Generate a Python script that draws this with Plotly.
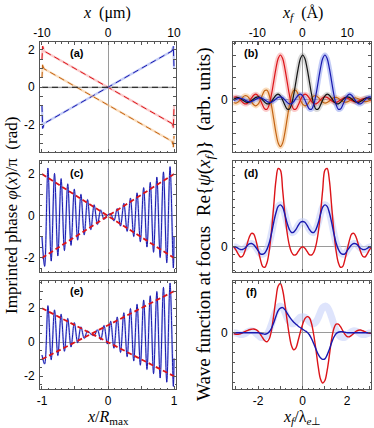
import plotly.graph_objects as go

W, H = 374, 428


def px(x):
    return x / W


def py(y):
    return 1 - y / H


# ---------------- data ----------------
# panel (a): imprinted phases (x / R_max)
a_x = [-1.0, -0.99, -0.985, -0.98, -0.97, 0.97, 0.98, 0.985, 0.99, 1.0]
a_red = [1.5, 2.2, 1.95, 2.12, 1.94, -1.94, -2.12, -1.95, -2.2, -1.0]
a_blue = [-1.0, -2.2, -1.95, -2.12, -1.94, 1.94, 2.12, 1.95, 2.2, 1.0]
a_orange = [0.5, 1.2, 0.95, 1.1, 0.99, -2.89, -3.05, -2.9, -3.2, -2.6]
a_black_x = [-1.0, 1.0]
a_black = [0.0, 0.0]

# panels (c) and (e): oscillating phase, sampled at its extrema
osc_x = [-1.0, -0.96, -0.91, -0.86, -0.81, -0.76, -0.71, -0.66, -0.61, -0.56,
         -0.51, -0.46, -0.41, -0.36, -0.31, -0.26, -0.21, -0.16, -0.11, -0.06,
         -0.01, 0.04, 0.09, 0.14, 0.19, 0.24, 0.29, 0.34, 0.39, 0.44,
         0.49, 0.54, 0.59, 0.64, 0.69, 0.74, 0.79, 0.84, 0.89, 0.94,
         0.99, 1.0]
c_blue = [-1.0, -2.4, 2.28, -2.15, 2.03, -1.9, 1.78, -1.65, 1.53, -1.4,
          1.28, -1.15, 1.03, -0.9, 0.78, -0.65, 0.53, -0.4, 0.28, -0.15,
          0.03, 0.1, -0.23, 0.35, -0.48, 0.6, -0.73, 0.85, -0.98, 1.1,
          -1.23, 1.35, -1.48, 1.6, -1.73, 1.85, -1.98, 2.1, -2.23, 2.35,
          -2.48, -1.0]
e_blue = [-0.75, -1.28, 2.15, -1.03, 1.9, -0.78, 1.65, -0.53, 1.4, -0.28,
          1.15, -0.03, 0.9, 0.23, 0.65, 0.48, 0.4, 0.73, 0.15, 0.98,
          -0.1, 1.23, -0.35, 1.48, -0.6, 1.73, -0.85, 1.98, -1.1, 2.23,
          -1.35, 2.48, -1.6, 2.73, -1.85, 2.98, -2.1, 3.23, -2.35, 3.48,
          -2.6, -0.95]
ramp_x = [-1.0, 1.0]
c_red_down = [2.0, -2.0]
c_red_up = [-2.0, 2.0]
e_red_down = [2.0, -2.0]
e_red_up = [-1.0, 3.0]

# right column: x_f / lambda_e
xf = [-3.1, -3.0, -2.9, -2.8, -2.7, -2.6, -2.5, -2.4, -2.3, -2.2,
      -2.1, -2.0, -1.9, -1.8, -1.7, -1.6, -1.5, -1.4, -1.3, -1.2,
      -1.1, -1.0, -0.9, -0.8, -0.7, -0.6, -0.5, -0.4, -0.3, -0.2,
      -0.1, 0.0, 0.1, 0.2, 0.3, 0.4, 0.5, 0.6, 0.7, 0.8,
      0.9, 1.0, 1.1, 1.2, 1.3, 1.4, 1.5, 1.6, 1.7, 1.8,
      1.9, 2.0, 2.1, 2.2, 2.3, 2.4, 2.5, 2.6, 2.7, 2.8,
      2.9, 3.0, 3.1]

# panel (b)
b_red = [0.056, 0.067, 0.046, 0.0, -0.054, -0.088, -0.083, -0.035, 0.038, 0.103,
         0.128, 0.092, 0.0, -0.115, -0.202, -0.207, -0.098, 0.122, 0.414, 0.705,
         0.921, 1.0, 0.921, 0.705, 0.414, 0.122, -0.098, -0.207, -0.202, -0.115,
         0.0, 0.092, 0.128, 0.103, 0.038, -0.035, -0.083, -0.088, -0.054, 0.0,
         0.046, 0.067, 0.056, 0.021, -0.020, -0.050, -0.054, -0.034, 0.0, 0.033,
         0.049, 0.041, 0.016, -0.015, -0.038, -0.041, -0.026, 0.0, 0.025, 0.037,
         0.032, 0.012, -0.012]
b_blue = [-0.012, 0.012, 0.032, 0.037, 0.025, 0.0, -0.026, -0.041, -0.038, -0.015,
          0.016, 0.041, 0.049, 0.033, 0.0, -0.034, -0.054, -0.050, -0.020, 0.021,
          0.056, 0.067, 0.046, 0.0, -0.054, -0.088, -0.083, -0.035, 0.038, 0.103,
          0.128, 0.092, 0.0, -0.115, -0.202, -0.207, -0.098, 0.122, 0.414, 0.705,
          0.921, 1.0, 0.921, 0.705, 0.414, 0.122, -0.098, -0.207, -0.202, -0.115,
          0.0, 0.092, 0.128, 0.103, 0.038, -0.035, -0.083, -0.088, -0.054, 0.0,
          0.046, 0.067, 0.056]
b_black = [0.016, 0.041, 0.049, 0.033, 0.0, -0.034, -0.054, -0.050, -0.020, 0.021,
           0.056, 0.067, 0.046, 0.0, -0.054, -0.088, -0.083, -0.035, 0.038, 0.103,
           0.128, 0.092, 0.0, -0.115, -0.202, -0.207, -0.098, 0.122, 0.414, 0.705,
           0.921, 1.0, 0.921, 0.705, 0.414, 0.122, -0.098, -0.207, -0.202, -0.115,
           0.0, 0.092, 0.128, 0.103, 0.038, -0.035, -0.083, -0.088, -0.054, 0.0,
           0.046, 0.067, 0.056, 0.021, -0.020, -0.050, -0.054, -0.034, 0.0, 0.033,
           0.049, 0.041, 0.016]
b_orange = [-0.058, -0.07, -0.048, 0.0, 0.056, 0.092, 0.086, 0.036, -0.04, -0.107,
            -0.133, -0.096, 0.0, 0.12, 0.21, 0.215, 0.102, -0.127, -0.43, -0.733,
            -0.958, -1.04, -0.958, -0.733, -0.43, -0.127, 0.102, 0.215, 0.21, 0.12,
            0.0, -0.096, -0.133, -0.107, -0.04, 0.036, 0.086, 0.092, 0.056, 0.0,
            -0.048, -0.07, -0.058, -0.022, 0.021, 0.052, 0.056, 0.035, 0.0, -0.034,
            -0.051, -0.043, -0.017, 0.016, 0.04, 0.043, 0.027, 0.0, -0.026, -0.038,
            -0.033, -0.012, 0.012]

# panel (d)
d_red = [0.0, -0.04, -0.09, -0.13, -0.12, -0.06, 0.03, 0.12, 0.17, 0.16,
         0.08, -0.04, -0.16, -0.25, -0.26, -0.20, -0.05, 0.20, 0.52, 0.84,
         0.99, 0.97, 0.72, 0.42, 0.18, 0.02, -0.07, -0.105, -0.10, -0.06,
         -0.02, 0.0, -0.02, -0.06, -0.10, -0.105, -0.07, 0.02, 0.18, 0.42,
         0.72, 0.97, 0.99, 0.84, 0.52, 0.20, -0.05, -0.20, -0.26, -0.25,
         -0.16, -0.04, 0.08, 0.16, 0.17, 0.12, 0.03, -0.06, -0.12, -0.13,
         -0.09, -0.04, 0.0]
d_blue = [0.0, -0.005, -0.02, -0.035, -0.035, -0.02, 0.01, 0.035, 0.04, 0.025,
          -0.01, -0.05, -0.09, -0.095, -0.08, -0.03, 0.05, 0.17, 0.31, 0.43,
          0.51, 0.53, 0.50, 0.41, 0.30, 0.22, 0.18, 0.185, 0.22, 0.27,
          0.31, 0.32, 0.31, 0.27, 0.22, 0.185, 0.18, 0.22, 0.30, 0.41,
          0.50, 0.53, 0.51, 0.43, 0.31, 0.17, 0.05, -0.03, -0.08, -0.095,
          -0.09, -0.05, -0.01, 0.025, 0.04, 0.035, 0.01, -0.02, -0.035, -0.035,
          -0.02, -0.005, 0.0]

# panel (f)
f_red = [-0.02, -0.03, -0.03, -0.02, 0.0, 0.02, 0.04, 0.06, 0.07, 0.075,
         0.06, 0.03, -0.03, -0.10, -0.16, -0.18, -0.12, 0.05, 0.35, 0.68,
         0.93, 0.98, 0.85, 0.58, 0.25, -0.05, -0.26, -0.34, -0.30, -0.15,
         0.02, 0.17, 0.28, 0.32, 0.30, 0.18, -0.05, -0.35, -0.68, -0.92,
         -1.0, -0.95, -0.75, -0.45, -0.13, 0.08, 0.17, 0.17, 0.12, 0.04,
         -0.03, -0.075, -0.08, -0.05, -0.01, 0.03, 0.05, 0.055, 0.04, 0.02,
         0.0, -0.01, -0.01]
f_blue = [0.0, 0.0, 0.0, 0.0, 0.0, 0.0, 0.0, 0.0, 0.0, 0.0,
          0.0, 0.0, -0.01, -0.02, -0.03, -0.02, 0.02, 0.09, 0.20, 0.33,
          0.44, 0.49, 0.50, 0.46, 0.39, 0.32, 0.26, 0.21, 0.17, 0.13,
          0.10, 0.07, 0.04, 0.01, -0.04, -0.12, -0.22, -0.33, -0.43, -0.50,
          -0.53, -0.52, -0.44, -0.33, -0.20, -0.09, -0.02, 0.01, 0.02, 0.02,
          0.01, 0.0, 0.0, 0.0, 0.0, 0.0, 0.0, 0.0, 0.0, 0.0,
          0.0, 0.0, 0.0]
f_ghost = d_blue

# tick labels
left_xticks = [-1, -0.5, 0, 0.5, 1]
left_xtext = ['-1', '', '0', '', '1']
top_um_ticks = [-10, -5, 0, 5, 10]
top_um_text = ['-10', '', '0', '', '10']
right_xticks = [-3, -2, -1, 0, 1, 2, 3]
right_xtext = ['', '-2', '', '0', '', '2', '']
top_A_ticks = [-15, -10, -5, 0, 5, 10, 15]
top_A_text = ['', '-10', '', '0', '', '10', '']
phase_ticks = [-3, -2, -1, 0, 1, 2, 3]
phase_text = ['', '-2', '', '0', '', '2', '']
wave_ticks = [0]
wave_text = ['0']

# ---------------- colours ----------------
RED = 'rgb(220,20,25)'
RED_L = 'rgba(245,140,140,0.45)'
BLUE = 'rgb(25,25,175)'
BLUE_L = 'rgba(120,140,235,0.45)'
BLACK = 'rgb(20,20,20)'
BLACK_L = 'rgba(150,150,150,0.35)'
ORANGE = 'rgb(195,100,20)'
ORANGE_L = 'rgba(245,180,110,0.45)'
GHOST = 'rgba(195,205,250,0.55)'

fig = go.Figure()


def line(x, y, color, width, xa, ya, dash='solid', shape='linear'):
    fig.add_trace(go.Scatter(x=x, y=y, mode='lines', xaxis=xa, yaxis=ya,
                             line=dict(color=color, width=width, dash=dash, shape=shape),
                             hoverinfo='skip', showlegend=False))


# (a)
for yv, cl, cd in [(a_red, RED_L, RED), (a_blue, BLUE_L, BLUE), (a_orange, ORANGE_L, ORANGE)]:
    line(a_x, yv, cl, 2.2, 'x', 'y')
    line(a_x, yv, cd, 1.0, 'x', 'y', dash='6px,4px')
line(a_black_x, a_black, BLACK_L, 2.0, 'x', 'y')
line(a_black_x, a_black, BLACK, 1.0, 'x', 'y', dash='6px,4px')

# (b)
for yv, cl in [(b_orange, ORANGE_L), (b_red, RED_L), (b_black, BLACK_L), (b_blue, BLUE_L)]:
    line(xf, yv, cl, 5, 'x2', 'y2', shape='spline')
for yv, cd in [(b_orange, ORANGE), (b_red, RED), (b_black, BLACK), (b_blue, BLUE)]:
    line(xf, yv, cd, 1.2, 'x2', 'y2', shape='spline')

# (c)
line(osc_x, c_blue, BLUE_L, 2.0, 'x3', 'y3', shape='spline')
line(osc_x, c_blue, BLUE, 1.0, 'x3', 'y3', shape='spline')
line(ramp_x, c_red_down, RED, 1.8, 'x3', 'y3', dash='5px,3px')
line(ramp_x, c_red_up, RED, 1.8, 'x3', 'y3', dash='5px,3px')

# (d)
line(xf, d_blue, GHOST, 7, 'x4', 'y4', shape='spline')
line(xf, d_red, RED, 1.4, 'x4', 'y4', shape='spline')
line(xf, d_blue, BLUE, 1.4, 'x4', 'y4', shape='spline')

# (e)
line(osc_x, e_blue, BLUE_L, 2.0, 'x5', 'y5', shape='spline')
line(osc_x, e_blue, BLUE, 1.0, 'x5', 'y5', shape='spline')
line(ramp_x, e_red_down, RED, 1.8, 'x5', 'y5', dash='5px,3px')
line(ramp_x, e_red_up, RED, 1.8, 'x5', 'y5', dash='5px,3px')

# (f)
line(xf, f_ghost, GHOST, 7, 'x6', 'y6', shape='spline')
line(xf, f_red, RED, 1.4, 'x6', 'y6', shape='spline')
line(xf, f_blue, BLUE, 1.4, 'x6', 'y6', shape='spline')

# empty traces so that the top (secondary) axes get drawn
fig.add_trace(go.Scatter(x=[], y=[], xaxis='x7', yaxis='y', showlegend=False, hoverinfo='skip'))
fig.add_trace(go.Scatter(x=[], y=[], xaxis='x8', yaxis='y2', showlegend=False, hoverinfo='skip'))

FRAME = '#555'
TICKFONT = dict(family='Liberation Sans, Arial, sans-serif', size=12, color='black')


def ax(**kw):
    d = dict(showline=True, linecolor=FRAME, linewidth=1, mirror='allticks',
             ticks='inside', ticklen=3, tickcolor=FRAME, tickwidth=1,
             showgrid=False, zeroline=True, zerolinecolor='#9a9a9a', zerolinewidth=1,
             tickfont=TICKFONT, fixedrange=True, ticklabelstandoff=2)
    d.update(kw)
    return d


LX = [px(40), px(176)]
RX = [px(233), px(371)]
ROW1 = [py(152), py(42)]
ROW2 = [py(272), py(161)]
ROW3 = [py(389), py(281)]
LRANGE = [-1.03, 1.03]
RRANGE = [-3.13, 3.07]

lminor = dict(ticks='inside', ticklen=1.5, tickcolor=FRAME, tick0=0, dtick=0.1)
rminor = dict(ticks='inside', ticklen=1.5, tickcolor=FRAME, tick0=0, dtick=0.25)

fig.update_layout(
    width=W, height=H, margin=dict(l=0, r=0, t=0, b=0, autoexpand=False),
    paper_bgcolor='white', plot_bgcolor='white', showlegend=False,
    xaxis=ax(domain=LX, anchor='y', range=LRANGE, tickvals=left_xticks, ticktext=left_xtext,
             showticklabels=False, minor=lminor),
    yaxis=ax(domain=ROW1, anchor='x', range=[-3.46, 2.42], tickvals=phase_ticks, ticktext=phase_text,
             minor=dict(ticks='inside', ticklen=1.5, tickcolor=FRAME, tick0=0, dtick=0.5)),
    xaxis3=ax(domain=LX, anchor='y3', range=LRANGE, tickvals=left_xticks, ticktext=left_xtext,
              showticklabels=False, minor=lminor),
    yaxis3=ax(domain=ROW2, anchor='x3', range=[-2.67, 2.62], tickvals=phase_ticks, ticktext=phase_text,
              minor=dict(ticks='inside', ticklen=1.5, tickcolor=FRAME, tick0=0, dtick=0.5)),
    xaxis5=ax(domain=LX, anchor='y5', range=LRANGE, tickvals=left_xticks, ticktext=left_xtext,
              minor=lminor, ticklabelstandoff=1),
    yaxis5=ax(domain=ROW3, anchor='x5', range=[-2.75, 3.6], tickvals=phase_ticks, ticktext=phase_text,
              minor=dict(ticks='inside', ticklen=1.5, tickcolor=FRAME, tick0=0, dtick=0.5)),
    xaxis2=ax(domain=RX, anchor='y2', range=RRANGE, tickvals=right_xticks, ticktext=right_xtext,
              showticklabels=False, minor=rminor),
    yaxis2=ax(domain=ROW1, anchor='x2', range=[-1.16, 1.29], tickvals=wave_ticks, ticktext=wave_text,
              minor=dict(ticks='inside', ticklen=1.5, tickcolor=FRAME, tick0=0, dtick=0.25)),
    xaxis4=ax(domain=RX, anchor='y4', range=RRANGE, tickvals=right_xticks, ticktext=right_xtext,
              showticklabels=False, minor=rminor),
    yaxis4=ax(domain=ROW2, anchor='x4', range=[-0.32, 1.085], tickvals=wave_ticks, ticktext=wave_text,
              minor=dict(ticks='inside', ticklen=1.5, tickcolor=FRAME, tick0=0, dtick=0.1)),
    xaxis6=ax(domain=RX, anchor='y6', range=RRANGE, tickvals=right_xticks, ticktext=right_xtext,
              minor=rminor, ticklabelstandoff=1),
    yaxis6=ax(domain=ROW3, anchor='x6', range=[-1.12, 1.03], tickvals=wave_ticks, ticktext=wave_text,
              minor=dict(ticks='inside', ticklen=1.5, tickcolor=FRAME, tick0=0, dtick=0.2)),
    xaxis7=dict(overlaying='x', anchor='y', side='top', range=[-10.3, 10.3],
                tickvals=top_um_ticks, ticktext=top_um_text, ticks='inside', ticklen=3,
                tickcolor=FRAME, showline=False, showgrid=False, zeroline=False,
                tickfont=TICKFONT, fixedrange=True, ticklabelstandoff=2),
    xaxis8=dict(overlaying='x2', anchor='y2', side='top', range=[-15.4, 15.27],
                tickvals=top_A_ticks, ticktext=top_A_text, ticks='inside', ticklen=3,
                tickcolor=FRAME, showline=False, showgrid=False, zeroline=False,
                tickfont=TICKFONT, fixedrange=True, ticklabelstandoff=2),
)

SERIF = 'Liberation Serif, Times New Roman, serif'


def note(text, x, y, size=15, angle=0, family=SERIF, bold=False):
    if bold:
        text = '<b>' + text + '</b>'
    fig.add_annotation(text=text, x=px(x), y=py(y), xref='paper', yref='paper',
                       showarrow=False, textangle=angle, xanchor='center', yanchor='middle',
                       font=dict(family=family, size=size, color='black'))


note('<i>x</i>  (μm)', 107, 13, size=16)
note('<i>x<sub>f</sub></i>  (Å)', 302, 13, size=16)
note('<i>x</i>/<i>R</i><sub>max</sub>', 108, 417, size=16)
note('<i>x<sub>f</sub></i>/λ<sub><i>e</i>⊥</sub>', 302, 417, size=16)
note('Imprinted phase <i>φ</i>(<i>x</i>)/π  (rad)', 12, 216, size=17, angle=-90)
note('Wave function at focus  Re{<i>ψ</i>(<i>x<sub>f</sub></i>)}  (arb. units)', 205, 224, size=19, angle=-90)

SANS = 'Liberation Sans, Arial, sans-serif'
for lbl, x, y in [('(a)', 77, 53), ('(b)', 251, 53), ('(c)', 77, 172.5),
                  ('(d)', 251, 172.5), ('(e)', 77, 291), ('(f)', 251, 292)]:
    note(lbl, x, y, size=11, family=SANS, bold=True)

fig.write_html('out.html', config={'displayModeBar': False},
               post_script="document.body.style.margin='0px';")
